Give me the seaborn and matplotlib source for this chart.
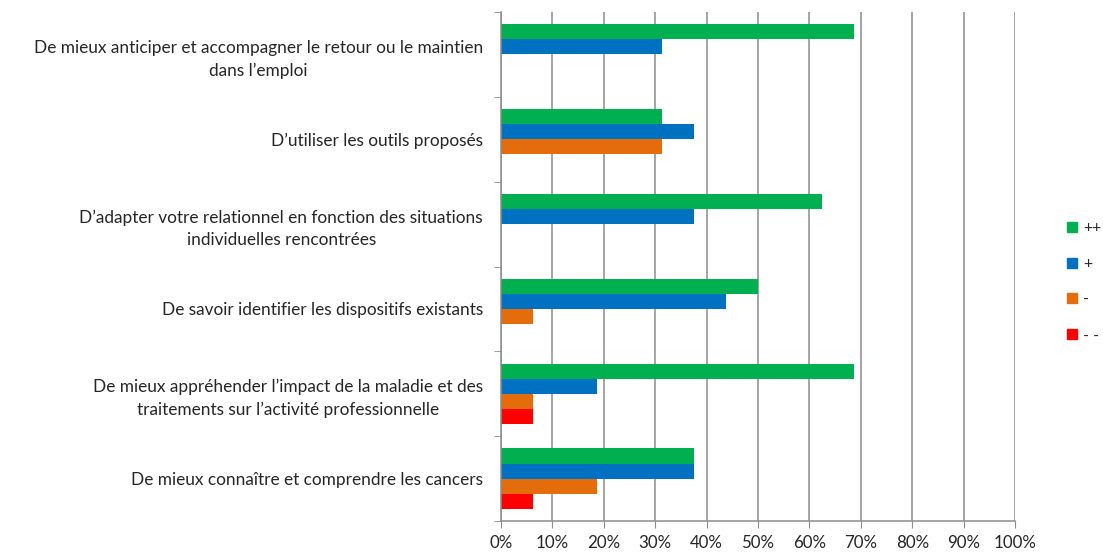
import matplotlib
matplotlib.use("Agg")
import matplotlib.pyplot as plt
from matplotlib.lines import Line2D
from matplotlib.ticker import MultipleLocator, PercentFormatter, FixedLocator
import seaborn as sns
import pandas as pd

categories = [
    "De mieux anticiper et accompagner le retour ou le maintien\ndans l’emploi",
    "D’utiliser les outils proposés",
    "D’adapter votre relationnel en fonction des situations\nindividuelles rencontrées",
    "De savoir identifier les dispositifs existants",
    "De mieux appréhender l’impact de la maladie et des\ntraitements sur l’activité professionnelle",
    "De mieux connaître et comprendre les cancers",
]
series_names = ["++", "+", "-", "- -"]
vals_pp = [68.75, 31.25, 62.5, 50.0, 68.75, 37.5]
vals_p = [31.25, 37.5, 37.5, 43.75, 18.75, 37.5]
vals_m = [0.0, 31.25, 0.0, 6.25, 6.25, 18.75]
vals_mm = [0.0, 0.0, 0.0, 0.0, 6.25, 6.25]
colors = ["#00B050", "#0070C0", "#E46C0A", "#FF0000"]

rows = []
for name, vals in zip(series_names, [vals_pp, vals_p, vals_m, vals_mm]):
    for c, v in zip(categories, vals):
        rows.append({"cat": c, "serie": name, "val": v})
df = pd.DataFrame(rows)

sns.set_style("white")
plt.rcParams["font.family"] = ["Lato", "DejaVu Sans"]

fig = plt.figure(figsize=(11.03, 5.54), dpi=100)
ax = fig.add_axes([501 / 1103, 1 - 521 / 554, (1015 - 501) / 1103, (521 - 12) / 554])

sns.barplot(data=df, y="cat", x="val", hue="serie", order=categories,
            hue_order=series_names, palette=colors, orient="h", ax=ax,
            width=0.71, linewidth=0, saturation=1, legend=False, errorbar=None)

ax.set_xlim(0, 100)
ax.set_ylim(len(categories) - 0.5, -0.5)
ax.xaxis.set_major_locator(MultipleLocator(10))
ax.xaxis.set_major_formatter(PercentFormatter(decimals=0))
ax.grid(axis="x", color="#8C8C8C", linewidth=1.1)
ax.set_axisbelow(True)
ax.set_xlabel("")
ax.set_ylabel("")

for s in ["top", "right"]:
    ax.spines[s].set_visible(False)
for s in ["left", "bottom"]:
    ax.spines[s].set_color("#8C8C8C")
    ax.spines[s].set_linewidth(1.1)

ax.tick_params(axis="x", which="major", length=5, color="#8C8C8C", labelsize=12.2, pad=5, bottom=True)
ax.tick_params(axis="y", which="major", length=0, labelsize=12.4, pad=13, left=False)
for lbl in ax.get_yticklabels():
    lbl.set_multialignment("center")
    lbl.set_linespacing(1.5)
ax.yaxis.set_minor_locator(FixedLocator([i - 0.5 for i in range(len(categories) + 1)]))
ax.tick_params(axis="y", which="minor", length=5, color="#8C8C8C", left=True)

handles = [Line2D([0], [0], marker="s", linestyle="none", markersize=7.5,
                  markerfacecolor=c, markeredgecolor=c) for c in colors]
fig.legend(handles, series_names, loc="center left", bbox_to_anchor=(1065 / 1103, 1 - 282 / 554),
           frameon=False, fontsize=11.5, labelspacing=1.35, handletextpad=0.25, handlelength=0.9,
           borderaxespad=0, borderpad=0)

fig.savefig("out.png", dpi=100)
